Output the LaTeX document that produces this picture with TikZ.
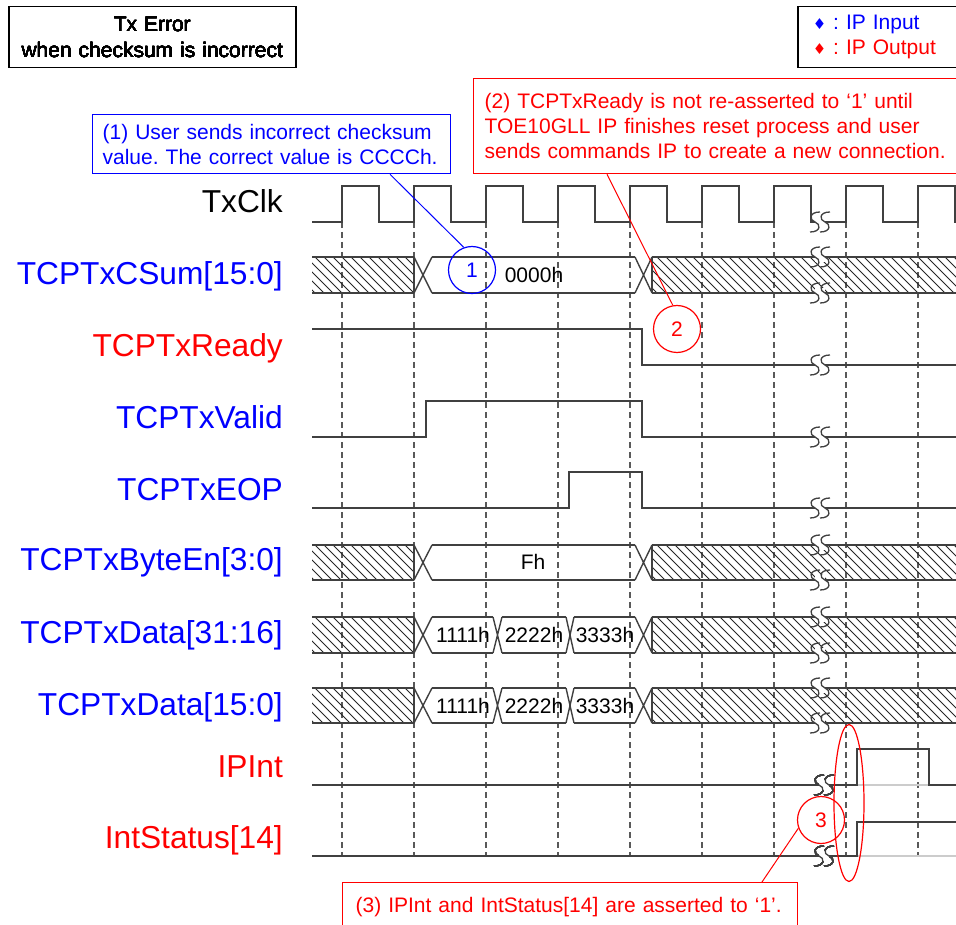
\documentclass[tikz,border=0pt]{standalone}
\usepackage{fontspec}
\setmainfont{Liberation Sans}
\newfontfamily\symfont{DejaVu Sans}
\usetikzlibrary{shapes,positioning,calc}
\definecolor{sigblue}{RGB}{0,0,255}
\definecolor{sigred}{RGB}{255,0,0}
\newcommand{\sigfont}{\fontsize{31.7}{36}\selectfont}
\newcommand{\notefont}{\fontsize{21}{25.3}\selectfont}
% don't care part of a bus
\newcommand{\hatchbus}[4]{%
  \begin{scope}
    \clip (#1,#3) rectangle (#2,#4);
    \foreach \k in {270,279,...,960} \draw[hatch] (\k,#3) -- ++(40,40);
  \end{scope}
  \draw[sig] (#1,#3) -- (#2,#3) (#1,#4) -- (#2,#4);}
% bus transition
\newcommand{\xbus}[4]{\draw[sig] (#1,#3) -- (#2,#4) (#1,#4) -- (#2,#3);}
% time break
\newcommand{\scurve}[2]{\draw[brk] (#1+5,#2-10) .. controls (#1-6,#2-10) and (#1-6,#2-2) .. (#1,#2) .. controls (#1+6,#2+2) and (#1+6,#2+10) .. (#1-5,#2+10);}
\newcommand{\brkmark}[2]{%
  \fill[white] (#1-5,#2-5) rectangle (#1+5,#2+5);
  \scurve{#1-5}{#2}\scurve{#1+5}{#2}}

\begin{document}
\begin{tikzpicture}
[x=1pt,y=-1pt,
sig/.style={draw=black!75,line width=1.4pt},
ghost/.style={draw=black!20,line width=1.4pt},
hatch/.style={draw=black!85,line width=0.9pt},
grid/.style={draw=black!65,line width=1.2pt,dash pattern=on 6pt off 4pt},
brk/.style={draw=black!75,line width=1.3pt},
lbl/.style={anchor=base east,inner sep=0pt,font=\sigfont},
val/.style={font=\notefont,inner sep=1pt},
note/.style={draw,anchor=north west,align=left,font=\notefont\frenchspacing,inner ysep=0pt,line width=1.3pt},
num/.style={circle,draw,line width=1.2pt,minimum size=47,inner sep=0pt,font=\notefont}]
\useasboundingbox (0,0) rectangle (956,925);
%% clock grid
\foreach \x in {342,414,...,918}
  \draw[grid] (\x,222) -- (\x,857);
%% signal names
\node[lbl] (lclk) at (283,213) {TxClk};
\node[lbl,text=sigblue] (lcsum) at (283,285) {TCPTxCSum[15:0]};
\node[lbl,text=sigred] (lrdy) at (283,356) {TCPTxReady};
\node[lbl,text=sigblue] (lvld) at (283,428) {TCPTxValid};
\node[lbl,text=sigblue] (leop) at (283,500) {TCPTxEOP};
\node[lbl,text=sigblue] (lbe) at (283,570) {TCPTxByteEn[3:0]};
\node[lbl,text=sigblue] (ldhi) at (283,643) {TCPTxData[31:16]};
\node[lbl,text=sigblue] (ldlo) at (283,715) {TCPTxData[15:0]};
\node[lbl,text=sigred] (lint) at (283,777) {IPInt};
\node[lbl,text=sigred] (lsts) at (283,848) {IntStatus[14]};
%% clock
\draw[sig] (312,222) \foreach \r in {342,414,...,918} {-- (\r,222) -- (\r,186) -- (\r+37,186) -- (\r+37,222)} -- (956,222);
%% buses
\foreach \yt/\yb in {257/293,545/580,617/653,688/723}{
  \hatchbus{312}{414}{\yt}{\yb}
  \hatchbus{652}{960}{\yt}{\yb}
  \draw[sig] (414,\yt) -- (414,\yb) (652,\yt) -- (652,\yb);
  \xbus{414}{432}{\yt}{\yb}
  \xbus{635}{652}{\yt}{\yb}
}
\draw[sig] (432,257) -- (635,257) (432,293) -- (635,293);
\draw[sig] (432,545) -- (635,545) (432,580) -- (635,580);
\foreach \yt/\yb in {617/653,688/723}{
  \draw[sig] (432,\yt) -- (493,\yt) (432,\yb) -- (493,\yb)
    (502,\yt) -- (566,\yt) (502,\yb) -- (566,\yb)
    (574,\yt) -- (635,\yt) (574,\yb) -- (635,\yb);
  \xbus{493}{502}{\yt}{\yb}
  \xbus{566}{574}{\yt}{\yb}
}
\node[val] (vcsum) at (534,275) {0000h};
\node[val] (vbe) at (533,562) {Fh};
\node[val] (vhi1) at (463,635) {1111h};
\node[val] (vhi2) at (534,635) {2222h};
\node[val] (vhi3) at (605,635) {3333h};
\node[val] (vlo1) at (463,706) {1111h};
\node[val] (vlo2) at (534,706) {2222h};
\node[val] (vlo3) at (605,706) {3333h};
%% single bits
\draw[sig] (312,329) -- (642,329) -- (642,365) -- (956,365);
\draw[sig] (312,437) -- (426,437) -- (426,401) -- (642,401) -- (642,437) -- (956,437);
\draw[sig] (312,508) -- (569,508) -- (569,472) -- (642,472) -- (642,508) -- (956,508);
\draw[ghost] (857,785) -- (929,785) (857,856) -- (956,856);
\draw[sig] (312,785) -- (857,785) -- (857,749) -- (929,749) -- (929,785) -- (956,785);
\draw[sig] (312,856) -- (857,856) -- (857,822) -- (956,822);
%% time breaks
\foreach \y in {222,257,293,365,437,508,545,580,617,653,688,723}
  \brkmark{820}{\y}
\brkmark{824}{785}
\brkmark{824}{856}
%% title and legend
\node[note,align=center,text width=267,inner xsep=10,minimum height=61,line width=1.5pt] (title) at (8,6)
  {Tx Error\\when checksum is incorrect};
\node[note,text width=135,inner xsep=15,minimum height=61,line width=1.5pt] (legend) at (797,6)
  {{\color{sigblue}{\fontsize{15}{15}\symfont ♦} : IP Input}\\{\color{sigred}{\fontsize{15}{15}\symfont ♦} : IP Output}};
%% notes
\node[note,draw=sigblue,text=sigblue,text width=348,inner xsep=5,minimum height=59] (note1) at (92,114)
  {\hspace*{5pt}(1) User sends incorrect checksum\\\hspace*{5pt}value. The correct value is CCCCh.};
\node[note,draw=sigred,text=sigred,text width=463,inner xsep=11,minimum height=95] (note2) at (473,78)
  {(2) TCPTxReady is not re-asserted to ‘1’ until\\TOE10GLL IP finishes reset process and user\\sends commands IP to create a new connection.};
\node[note,draw=sigred,text=sigred,text width=429,inner xsep=13,minimum height=49] (note3) at (342,882)
  {(3) IPInt and IntStatus[14] are asserted to ‘1’.};
\node[num,draw=sigblue,text=sigblue] (c1) at (472,270) {1};
\node[num,draw=sigred,text=sigred] (c2) at (677,329) {2};
\node[num,draw=sigred,text=sigred] (c3) at (821,820) {3};
\node[draw=sigred,ellipse,line width=1.2pt,minimum width=30,minimum height=157,inner sep=0pt] (hilite) at (849,803) {};
\draw[sigblue,line width=1pt] ([xshift=298pt]note1.south west) -- (c1.110);
\draw[sigred,line width=1pt] ([xshift=134pt]note2.south west) -- (c2.100);
\draw[sigred,line width=1pt] ([xshift=420pt]note3.north west) -- (c3.200);
\end{tikzpicture}
\end{document}
